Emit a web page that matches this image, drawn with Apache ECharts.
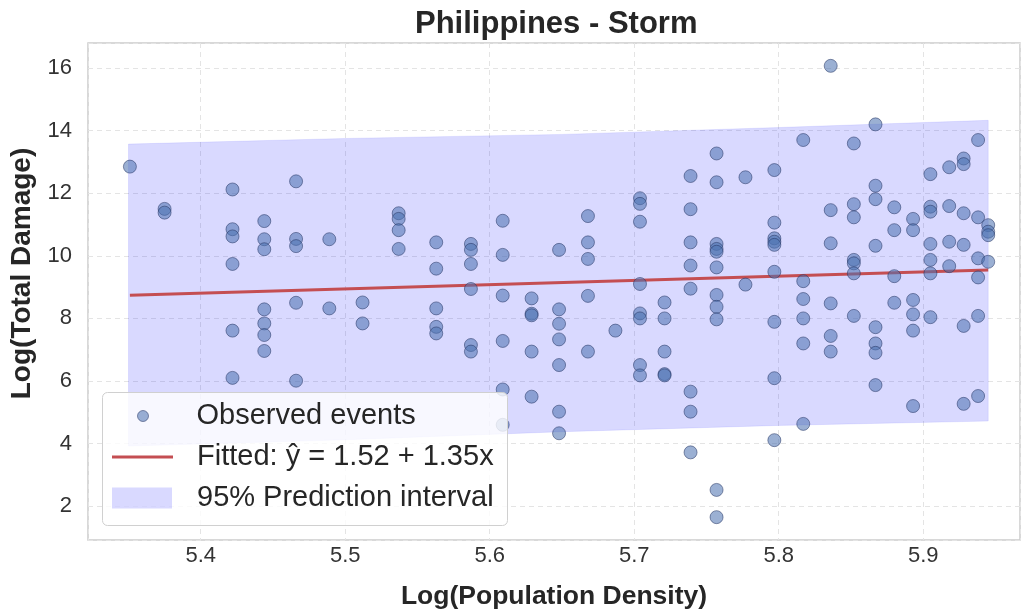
<!DOCTYPE html>
<html>
<head>
<meta charset="utf-8">
<script src="https://cdn.jsdelivr.net/npm/echarts@6/dist/echarts.min.js"></script>
<style>
  html, body { margin: 0; padding: 0; background: #ffffff; }
  #chart { width: 1022px; height: 611px; }
</style>
</head>
<body>
<div id="chart"></div>
<script>
// Storm events: log population density vs log total damage (one entry per event)
const logDensity = [
  5.351,
  5.375, 5.375,
  5.422, 5.422, 5.422, 5.422, 5.422, 5.422,
  5.444, 5.444, 5.444, 5.444, 5.444, 5.444, 5.444,
  5.466, 5.466, 5.466, 5.466, 5.466,
  5.489, 5.489,
  5.512, 5.512,
  5.537, 5.537, 5.537, 5.537,
  5.563, 5.563, 5.563, 5.563, 5.563,
  5.587, 5.587, 5.587, 5.587, 5.587, 5.587,
  5.609, 5.609, 5.609, 5.609, 5.609, 5.609,
  5.629, 5.629, 5.629, 5.629, 5.629,
  5.648, 5.648, 5.648, 5.648, 5.648, 5.648, 5.648,
  5.668, 5.668, 5.668, 5.668, 5.668,
  5.687,
  5.704, 5.704, 5.704, 5.704, 5.704, 5.704, 5.704, 5.704,
  5.721, 5.721, 5.721, 5.721, 5.721,
  5.739, 5.739, 5.739, 5.739, 5.739, 5.739, 5.739, 5.739,
  5.757, 5.757, 5.757, 5.757, 5.757, 5.757, 5.757, 5.757, 5.757, 5.757, 5.757,
  5.777, 5.777,
  5.797, 5.797, 5.797, 5.797, 5.797, 5.797, 5.797, 5.797, 5.797,
  5.817, 5.817, 5.817, 5.817, 5.817, 5.817,
  5.836, 5.836, 5.836, 5.836, 5.836, 5.836,
  5.852, 5.852, 5.852, 5.852, 5.852, 5.852, 5.852,
  5.867, 5.867, 5.867, 5.867, 5.867, 5.867, 5.867, 5.867,
  5.880, 5.880, 5.880, 5.880,
  5.893, 5.893, 5.893, 5.893, 5.893, 5.893,
  5.905, 5.905, 5.905, 5.905, 5.905, 5.905, 5.905,
  5.918, 5.918, 5.918, 5.918,
  5.928, 5.928, 5.928, 5.928, 5.928, 5.928,
  5.938, 5.938, 5.938, 5.938, 5.938, 5.938,
  5.945, 5.945, 5.945, 5.945
];
const logDamage = [
  12.85,
  11.50, 11.38,
  12.12, 10.85, 10.62, 9.74, 7.61, 6.10,
  11.11, 10.53, 10.21, 8.29, 7.84, 7.47, 6.96,
  12.38, 10.54, 10.31, 8.50, 6.01,
  10.53, 8.32,
  8.51, 7.84,
  11.36, 11.18, 10.82, 10.22,
  10.43, 9.59, 8.32, 7.73, 7.52,
  10.38, 10.19, 9.74, 8.94, 7.15, 6.94,
  11.12, 10.03, 8.73, 7.28, 5.73, 4.60,
  8.64, 8.15, 8.10, 6.94, 5.50,
  10.19, 8.29, 7.83, 7.33, 6.51, 5.02, 4.33,
  11.27, 10.43, 9.90, 8.72, 6.94,
  7.61,
  11.84, 11.66, 11.09, 9.10, 8.16, 8.00, 6.51, 6.18,
  8.51, 8.00, 6.94, 6.22, 6.18,
  12.55, 11.49, 10.43, 9.69, 8.95, 5.66, 5.02, 3.72,
  13.27, 12.35, 10.38, 10.22, 10.13, 9.63, 8.75, 8.37, 7.97, 2.52, 1.65,
  12.51, 9.08,
  12.74, 11.06, 10.56, 10.45, 10.35, 9.49, 7.89, 6.09, 4.11,
  13.70, 9.19, 8.62, 8.00, 7.20, 4.63,
  16.07, 11.46, 10.40, 8.48, 7.44, 6.94,
  13.59, 11.65, 11.23, 9.87, 9.76, 9.44, 8.08,
  14.20, 12.24, 11.81, 10.32, 7.72, 7.20, 6.90, 5.87,
  11.55, 10.82, 9.35, 8.50,
  11.18, 10.82, 8.59, 8.13, 7.61, 5.20,
  12.61, 11.57, 11.41, 10.38, 9.87, 9.44, 8.04,
  12.83, 11.59, 10.45, 9.67,
  13.11, 12.93, 11.36, 10.35, 7.76, 5.27,
  13.70, 11.23, 9.92, 9.31, 8.08, 5.52,
  10.98, 10.77, 10.66, 9.81
];

// OLS fit coefficients
const fitIntercept = 1.52;
const fitSlope = 1.35;

// 95% prediction interval bounds
const piX = [5.350, 5.500, 5.650, 5.800, 5.945];
const piLower = [3.92, 4.12, 4.38, 4.58, 4.72];
const piUpper = [13.57, 13.75, 13.88, 14.10, 14.33];

const FONT = '"Liberation Sans", Arial, Helvetica, sans-serif';
const TEXT = '#262626';

const points = logDensity.map((x, i) => [x, logDamage[i]]);
const xMinData = Math.min(...logDensity);
const xMaxData = Math.max(...logDensity);
const fitLine = [xMinData, xMaxData].map(x => [x, fitIntercept + fitSlope * x]);
const bandData = piX.map((x, i) => [x, piLower[i], piUpper[i]]);

const NAME_PTS = 'Observed events';
const NAME_FIT = 'Fitted: ŷ = ' + fitIntercept.toFixed(2) + ' + ' + fitSlope.toFixed(2) + 'x';
const NAME_PI = '95% Prediction interval';
const BAND_COLOR = 'rgba(0,0,255,0.15)';
const FIT_COLOR = '#c44e52';
const PT_COLOR = 'rgba(76,114,176,0.7)';
const PT_EDGE = 'rgba(35,50,95,0.65)';

function legendAt(left, top, item, w, h, padLeft) {
  return {
    data: [item], orient: 'vertical', left: left, top: top, padding: 0,
    itemWidth: w, itemHeight: h, selectedMode: false, z: 60,
    textStyle: { fontFamily: FONT, fontSize: 29, color: TEXT, lineHeight: 32, padding: [0, 0, 0, padLeft] }
  };
}

const chart = echarts.init(document.getElementById('chart'), null, { renderer: 'canvas' });
chart.setOption({
  backgroundColor: '#ffffff',
  animation: false,
  title: {
    text: 'Philippines - Storm',
    left: 410, top: 4,
    textStyle: { fontFamily: FONT, fontSize: 31, fontWeight: 'bold', color: TEXT }
  },
  grid: {
    left: 88, right: 2, top: 43, bottom: 71,
    outerBoundsMode: 'none', containLabel: false,
    show: true, borderColor: '#cccccc', borderWidth: 1.5, backgroundColor: 'transparent'
  },
  xAxis: {
    type: 'value', min: 5.322, max: 5.967, splitNumber: 6,
    name: 'Log(Population Density)', nameLocation: 'middle', nameGap: 43,
    nameTextStyle: { fontFamily: FONT, fontSize: 26.5, fontWeight: 'bold', color: TEXT },
    axisLine: { show: false }, axisTick: { show: false },
    axisLabel: {
      fontFamily: FONT, fontSize: 22, color: '#333333', margin: 5,
      showMinLabel: false, showMaxLabel: false,
      formatter: v => v.toFixed(1)
    },
    splitLine: { show: true, lineStyle: { color: '#e4e4e4', type: [5, 4], width: 1 } }
  },
  yAxis: {
    type: 'value', min: 0.92, max: 16.8, splitNumber: 8,
    name: 'Log(Total Damage)', nameLocation: 'middle', nameGap: 50, nameRotate: 90,
    nameTextStyle: { fontFamily: FONT, fontSize: 28, fontWeight: 'bold', color: TEXT, padding: [0, 0, 0, 36] },
    axisLine: { show: false }, axisTick: { show: false },
    axisLabel: {
      fontFamily: FONT, fontSize: 22, color: '#333333', margin: 16,
      showMinLabel: false, showMaxLabel: false
    },
    splitLine: { show: true, lineStyle: { color: '#e4e4e4', type: [5, 4], width: 1 } }
  },
  legend: [
    legendAt(137, 400, { name: NAME_PTS, icon: 'circle', itemStyle: { color: PT_COLOR, borderColor: PT_EDGE, borderWidth: 1 } }, 11, 11, 43),
    legendAt(112, 441, { name: NAME_FIT, icon: 'rect', itemStyle: { color: FIT_COLOR } }, 61, 3, 19),
    legendAt(112, 482, { name: NAME_PI, icon: 'rect', itemStyle: { color: BAND_COLOR } }, 60, 21, 20)
  ],
  graphic: [{
    type: 'rect', left: 102, top: 392, z: 50,
    shape: { width: 405, height: 133, r: 5 },
    style: { fill: 'rgba(255,255,255,0.8)', stroke: '#d0d0d0', lineWidth: 1 }
  }],
  series: [
    {
      name: NAME_PI,
      type: 'custom',
      data: bandData,
      encode: { x: 0, y: [1, 2] },
      itemStyle: { color: BAND_COLOR },
      z: 1,
      renderItem: function (params, api) {
        if (params.dataIndex !== 0) return null;
        const upper = bandData.map(d => api.coord([d[0], d[2]]));
        const lower = bandData.map(d => api.coord([d[0], d[1]])).reverse();
        return {
          type: 'polygon',
          shape: { points: upper.concat(lower) },
          style: { fill: BAND_COLOR, stroke: 'rgba(0,0,255,0.08)', lineWidth: 1 }
        };
      }
    },
    {
      name: NAME_FIT,
      type: 'line',
      data: fitLine,
      showSymbol: false, symbol: 'none',
      lineStyle: { color: FIT_COLOR, width: 3 },
      itemStyle: { color: FIT_COLOR },
      z: 3
    },
    {
      name: NAME_PTS,
      type: 'scatter',
      data: points,
      symbolSize: 13,
      itemStyle: { color: PT_COLOR, borderColor: PT_EDGE, borderWidth: 1 },
      z: 4
    }
  ]
});
</script>
</body>
</html>
